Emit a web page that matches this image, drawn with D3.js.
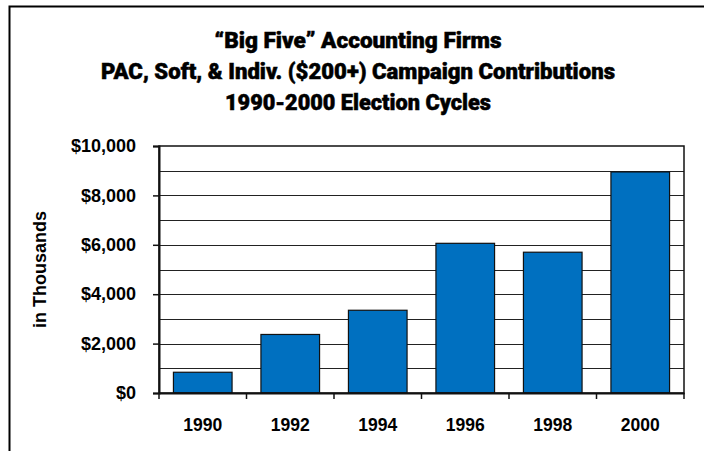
<!DOCTYPE html>
<html>
<head>
<meta charset="utf-8">
<script src="https://cdn.jsdelivr.net/npm/d3@7"></script>
<style>
  html, body { margin: 0; padding: 0; background: #fff; }
  svg { display: block; }
  .tick-label { font-family: "Liberation Sans", Arial, sans-serif; font-weight: bold; font-size: 18px; fill: #000; }
  .title { font-family: Roboto, "DejaVu Sans Condensed", sans-serif; font-weight: 900; font-size: 21.5px; fill: #000; stroke: #000; stroke-width: 0.5px; }
</style>
</head>
<body>
<div id="chart"></div>
<script>
const years = ['1990', '1992', '1994', '1996', '1998', '2000'];
const contributions = [840, 2370, 3350, 6060, 5700, 8950];
const yTicks = [0, 2000, 4000, 6000, 8000, 10000];
const gridValues = [1000, 2000, 3000, 4000, 5000, 6000, 7000, 8000, 9000];
const titleLines = ['\u201CBig Five\u201D Accounting Firms', 'PAC, Soft, & Indiv. ($200+) Campaign Contributions', '1990-2000 Election Cycles'];
const yLabel = 'in Thousands';

const W = 704, H = 451;
const plot = { left: 159, right: 684, top: 146, bottom: 393 };

const svg = d3.select('#chart').append('svg')
    .attr('width', W)
    .attr('height', H);

svg.append('rect').attr('width', W).attr('height', H).attr('fill', '#fff');

// outer frame (left + top only visible)
svg.append('path')
    .attr('d', `M9.5,${H} V6.5 H${W}`)
    .attr('fill', 'none')
    .attr('stroke', '#000')
    .attr('stroke-width', 2);

// title
const titleWidths = [287, 514, 266];
const titleY = [47.5, 79, 110];
svg.selectAll('.title')
    .data(titleLines)
    .join('text')
    .attr('class', 'title')
    .attr('x', 358)
    .attr('y', (d, i) => titleY[i])
    .attr('text-anchor', 'middle')
    .attr('textLength', (d, i) => titleWidths[i])
    .attr('lengthAdjust', 'spacingAndGlyphs')
    .text(d => d);

const y = d3.scaleLinear()
    .domain([0, 10000])
    .range([plot.bottom, plot.top]);

const x = d3.scaleBand()
    .domain(years)
    .range([plot.left, plot.right])
    .paddingInner(0.33)
    .paddingOuter(0.165);

const slot = d3.scaleBand()
    .domain(years)
    .range([plot.left, plot.right])
    .padding(0);

// gridlines
svg.append('g')
    .selectAll('line')
    .data(gridValues)
    .join('line')
    .attr('x1', plot.left)
    .attr('x2', plot.right)
    .attr('y1', d => Math.round(y(d)) + 0.5)
    .attr('y2', d => Math.round(y(d)) + 0.5)
    .attr('stroke', '#222')
    .attr('stroke-width', 1);

// bars
svg.append('g')
    .selectAll('rect')
    .data(years.map((yr, i) => ({ year: yr, value: contributions[i] })))
    .join('rect')
    .attr('x', d => x(d.year))
    .attr('y', d => y(d.value))
    .attr('width', x.bandwidth())
    .attr('height', d => y(0) - y(d.value))
    .attr('fill', '#0070C0')
    .attr('stroke', '#111')
    .attr('stroke-width', 1.2);

// plot frame
svg.append('rect')
    .attr('x', plot.left)
    .attr('y', plot.top)
    .attr('width', plot.right - plot.left)
    .attr('height', plot.bottom - plot.top)
    .attr('fill', 'none')
    .attr('stroke', '#111')
    .attr('stroke-width', 1.5);

// y axis
const yAxis = svg.append('g')
    .attr('transform', `translate(${plot.left},0)`)
    .call(d3.axisLeft(y)
        .tickValues(yTicks)
        .tickSize(6)
        .tickPadding(17)
        .tickFormat(d => '$' + d3.format(',')(d)));
yAxis.select('.domain').attr('stroke', '#111').attr('stroke-width', 2);
yAxis.selectAll('.tick line').attr('stroke', '#111').attr('stroke-width', 1.5);
yAxis.selectAll('.tick text').attr('class', 'tick-label').attr('font-family', null).attr('font-size', null);

// x axis: ticks at category boundaries
const xAxis = svg.append('g')
    .attr('transform', `translate(0,${plot.bottom})`)
    .call(d3.axisBottom(x).tickSize(0).tickPadding(25));
xAxis.select('.domain').attr('stroke', '#111').attr('stroke-width', 2);
xAxis.selectAll('.tick text').attr('class', 'tick-label').attr('font-family', null)
    .attr('font-size', null).style('font-size', '19px')
    .attr('textLength', 39).attr('lengthAdjust', 'spacingAndGlyphs')
    .attr('dy', '0.71em');

const boundaries = years.map(d => slot(d)).concat([plot.right]);
xAxis.selectAll('.bound')
    .data(boundaries)
    .join('line')
    .attr('class', 'bound')
    .attr('x1', d => d)
    .attr('x2', d => d)
    .attr('y1', 0)
    .attr('y2', 6)
    .attr('stroke', '#111')
    .attr('stroke-width', 1.5);

// y label
svg.append('text')
    .attr('class', 'tick-label')
    .attr('transform', `translate(46,${(plot.top + plot.bottom) / 2}) rotate(-90)`)
    .attr('text-anchor', 'middle')
    .text(yLabel);
</script>
</body>
</html>
